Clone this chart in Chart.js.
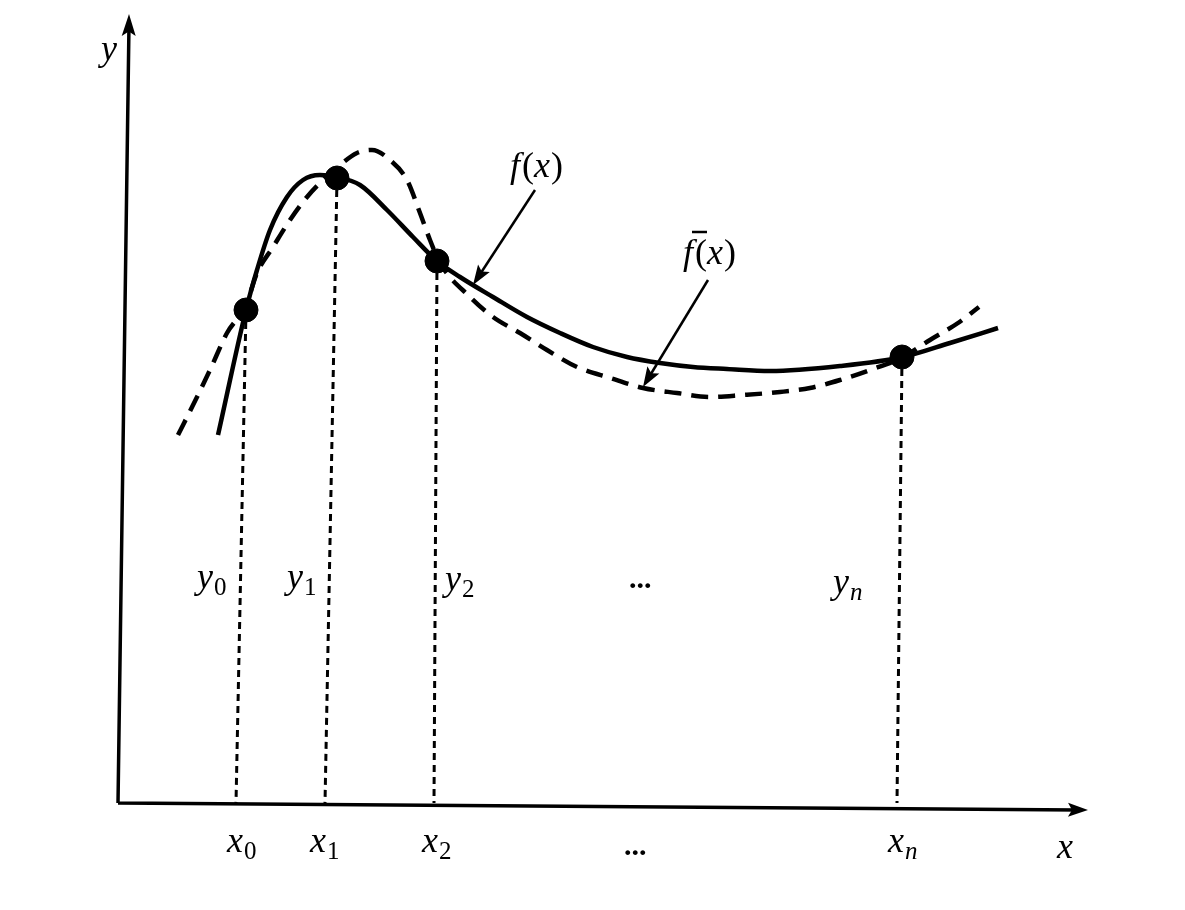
<!DOCTYPE html>
<html>
<head>
<meta charset="utf-8">
<script src="https://cdn.jsdelivr.net/npm/chart.js@4/dist/chart.umd.min.js"></script>
<style>
  html, body { margin: 0; padding: 0; background: #fff; }
  #wrap { width: 1185px; height: 910px; }
</style>
</head>
<body>
<div id="wrap"><canvas id="interpChart" width="1185" height="910"></canvas></div>
<script>
// --- DATA (units along each axis) ---

// solid curve f(x)
const fX = [1.00, 1.28, 1.39, 1.52, 1.69, 1.85, 2.02, 2.19, 2.42, 2.69, 2.95, 3.19, 3.42, 3.75, 4.09, 4.42, 4.75, 5.09, 5.42, 5.75, 6.09, 6.52, 7.22, 7.85, 8.32, 8.80];
const fY = [3.68, 4.93, 5.33, 5.73, 6.06, 6.23, 6.28, 6.26, 6.18, 5.93, 5.66, 5.42, 5.26, 5.06, 4.86, 4.70, 4.56, 4.46, 4.40, 4.36, 4.34, 4.32, 4.37, 4.46, 4.60, 4.75];

// dashed curve f-bar(x)
const fbarX = [0.60, 0.79, 0.92, 1.09, 1.28, 1.39, 1.55, 1.72, 1.89, 2.05, 2.22, 2.39, 2.54, 2.72, 2.89, 3.02, 3.12, 3.22, 3.52, 3.75, 4.02, 4.29, 4.59, 4.92, 5.25, 5.59, 5.92, 6.25, 6.62, 6.92, 7.22, 7.52, 7.85, 8.12, 8.40, 8.61];
const fbarY = [3.68, 4.06, 4.33, 4.70, 4.98, 5.30, 5.56, 5.83, 6.06, 6.23, 6.38, 6.50, 6.53, 6.43, 6.23, 5.90, 5.63, 5.40, 5.06, 4.86, 4.70, 4.53, 4.36, 4.25, 4.15, 4.10, 4.06, 4.08, 4.11, 4.15, 4.23, 4.33, 4.46, 4.63, 4.80, 4.96];

// nodes (x_i, y_i)
const nodeX = [1.28, 2.19, 3.19, 7.84];
const nodeY = [4.93, 6.25, 5.42, 4.46];
// where each dotted drop line meets the x axis
const dropX = [1.18, 2.07, 3.16, 7.79];

// axis ends (the scan is slightly tilted)
const xAxisEnd = [9.70, -0.07];
const yAxisEnd = [0.11, 7.89];

// arrows pointing at the curves: [fromX, fromY, toX, toY]
const fArrow = [4.17, 6.13, 3.55, 5.18];
const fbarArrow = [5.90, 5.23, 5.25, 4.16];

// --- LABELS (anchor = left / baseline, axis units) ---
const labels = [
  { main: 'y', x: -0.17, y: 7.43 },
  { main: 'x', x: 9.39, y: -0.55 },
  { main: 'x', sub: '0', x: 1.09, y: -0.49 },
  { main: 'x', sub: '1', x: 1.92, y: -0.49 },
  { main: 'x', sub: '2', x: 3.04, y: -0.49 },
  { main: 'x', sub: 'n', x: 7.70, y: -0.49 },
  { main: 'y', sub: '0', x: 0.79, y: 2.15 },
  { main: 'y', sub: '1', x: 1.69, y: 2.15 },
  { main: 'y', sub: '2', x: 3.27, y: 2.13 },
  { main: 'y', sub: 'n', x: 7.15, y: 2.10 },
  { main: 'f', rest: true, x: 3.92, y: 6.26 },
  { main: 'f', rest: true, bar: true, x: 5.65, y: 5.39 }
];
const dots = [
  { x: 5.06, y: -0.52 },
  { x: 5.11, y: 2.15 }
];

const pts = (xs, ys) => xs.map((x, i) => ({ x: x, y: ys[i] }));

const dropSets = nodeX.map((x, i) => ({
  data: [{ x: x, y: nodeY[i] }, { x: dropX[i], y: 0 }],
  showLine: true,
  borderColor: '#000',
  borderWidth: 3,
  borderDash: [7, 5],
  pointRadius: 0,
  order: 3
}));

function arrowHead(ctx, x1, y1, x2, y2, len, half) {
  const a = Math.atan2(y2 - y1, x2 - x1);
  ctx.beginPath();
  ctx.moveTo(x2, y2);
  ctx.lineTo(x2 - len * Math.cos(a) + half * Math.sin(a), y2 - len * Math.sin(a) - half * Math.cos(a));
  ctx.lineTo(x2 - len * Math.cos(a) * 0.8, y2 - len * Math.sin(a) * 0.8);
  ctx.lineTo(x2 - len * Math.cos(a) - half * Math.sin(a), y2 - len * Math.sin(a) + half * Math.cos(a));
  ctx.closePath();
  ctx.fill();
}

// draws axes, arrows and the math labels
const decorPlugin = {
  id: 'decor',
  afterDatasetsDraw(chart) {
    const ctx = chart.ctx;
    const xs = chart.scales.x, ys = chart.scales.y;
    const px = v => xs.getPixelForValue(v);
    const py = v => ys.getPixelForValue(v);
    ctx.save();
    ctx.strokeStyle = '#000';
    ctx.fillStyle = '#000';

    // axes
    ctx.lineWidth = 3.5;
    const ox = px(0), oy = py(0);
    const xe = [px(xAxisEnd[0]), py(xAxisEnd[1])];
    const ye = [px(yAxisEnd[0]), py(yAxisEnd[1])];
    ctx.beginPath();
    ctx.moveTo(ox, oy); ctx.lineTo(xe[0] - 10, xe[1]);
    ctx.moveTo(ox, oy); ctx.lineTo(ye[0], ye[1] + 10);
    ctx.stroke();
    arrowHead(ctx, ox, oy, xe[0], xe[1], 20, 7);
    arrowHead(ctx, ox, oy, ye[0], ye[1], 22, 7);

    // pointer arrows
    ctx.lineWidth = 2.5;
    [fArrow, fbarArrow].forEach(a => {
      const x1 = px(a[0]), y1 = py(a[1]), x2 = px(a[2]), y2 = py(a[3]);
      const ang = Math.atan2(y2 - y1, x2 - x1);
      ctx.beginPath();
      ctx.moveTo(x1, y1);
      ctx.lineTo(x2 - 12 * Math.cos(ang), y2 - 12 * Math.sin(ang));
      ctx.stroke();
      arrowHead(ctx, x1, y1, x2, y2, 20, 7);
    });

    // labels
    ctx.textBaseline = 'alphabetic';
    ctx.textAlign = 'left';
    const ital = "italic 36px 'Liberation Serif'";
    const upr = "36px 'Liberation Serif'";
    labels.forEach(l => {
      const x = px(l.x), y = py(l.y);
      ctx.font = ital;
      ctx.fillText(l.main, x, y);
      const w = ctx.measureText(l.main).width;
      if (l.bar) {
        ctx.lineWidth = 2.5;
        ctx.beginPath();
        ctx.moveTo(x + 9, y - 32);
        ctx.lineTo(x + 24, y - 32);
        ctx.stroke();
      }
      if (l.rest) {
        ctx.font = upr;
        const wp = ctx.measureText('(').width;
        ctx.fillText('(', x + w + 2, y);
        ctx.font = ital;
        const wx = ctx.measureText('x').width;
        ctx.fillText('x', x + w + 2 + wp, y);
        ctx.font = upr;
        ctx.fillText(')', x + w + 3 + wp + wx, y);
      }
      if (l.sub) {
        ctx.font = (l.sub === 'n' ? 'italic ' : '') + "25px 'Liberation Serif'";
        ctx.fillText(l.sub, x + w + 1, y + 7);
      }
    });
    ctx.font = "bold 30px 'Liberation Serif'";
    dots.forEach(d => ctx.fillText('...', px(d.x), py(d.y)));
    ctx.restore();
  }
};

const config = {
  type: 'scatter',
  data: {
    datasets: [
      {
        data: pts(nodeX, nodeY),
        pointRadius: 12,
        pointBackgroundColor: '#000',
        pointBorderColor: '#000',
        showLine: false,
        order: 0
      },
      {
        data: pts(fX, fY),
        showLine: true,
        borderColor: '#000',
        borderWidth: 4.5,
        pointRadius: 0,
        cubicInterpolationMode: 'monotone',
        order: 1
      },
      {
        data: pts(fbarX, fbarY),
        showLine: true,
        borderColor: '#000',
        borderWidth: 4.5,
        borderDash: [17, 10],
        pointRadius: 0,
        cubicInterpolationMode: 'monotone',
        order: 2
      },
      ...dropSets
    ]
  },
  options: {
    responsive: false,
    animation: false,
    events: [],
    layout: { padding: { left: 118, right: 97, top: 15, bottom: 107 } },
    scales: {
      x: { type: 'linear', min: 0, max: 9.7, display: false },
      y: { type: 'linear', min: 0, max: 7.88, display: false }
    },
    plugins: {
      legend: { display: false },
      tooltip: { enabled: false },
      title: { display: false }
    }
  },
  plugins: [decorPlugin]
};

window.onload = () => {
  const ctx = document.getElementById('interpChart').getContext('2d');
  new Chart(ctx, config);
};
</script>
</body>
</html>
